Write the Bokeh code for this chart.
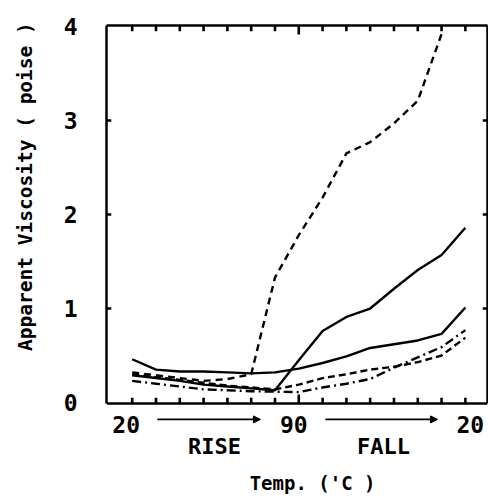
from bokeh.plotting import figure
from bokeh.models import (Range1d, LinearAxis, FixedTicker, Label, Arrow, NormalHead, Span)
from bokeh.core.properties import value
from bokeh.embed import file_html
from bokeh.resources import INLINE

# Measurement steps: 20 -> 90 'C (rise), then 90 -> 20 'C (fall)
steps = list(range(15))
label_steps = [0, 7, 14]
label_texts = ["20", "90", "20"]
y_ticks = [0, 1, 2, 3, 4]

# Apparent viscosity (poise) at each step
visc_a = [0.32, 0.29, 0.26, 0.23, 0.25, 0.30, 1.33, 1.78, 2.18, 2.65, 2.77, 2.97, 3.21, 3.92]
visc_b = [0.46, 0.35, 0.33, 0.33, 0.32, 0.31, 0.32, 0.36, 0.42, 0.49, 0.58, 0.62, 0.66, 0.73, 1.01]
visc_c = [0.29, 0.26, 0.23, 0.19, 0.17, 0.15, 0.13, 0.45, 0.76, 0.91, 1.00, 1.21, 1.41, 1.57, 1.86]
visc_d = [0.23, 0.20, 0.17, 0.14, 0.13, 0.12, 0.115, 0.11, 0.16, 0.20, 0.25, 0.37, 0.48, 0.59, 0.77]
visc_e = [0.30, 0.27, 0.24, 0.21, 0.18, 0.16, 0.14, 0.19, 0.26, 0.30, 0.35, 0.38, 0.43, 0.50, 0.69]

FONT = "DejaVu Sans Mono"
BLACK = "black"

# the frame runs to the bottom of the page; the boxed plot area ends at BOX_Y0
X0, X1 = -1.08, 14.93
Y0, Y1 = -1.032, 4.011
BOX_Y0 = -0.01

p = figure(width=488, height=499, output_backend="svg", toolbar_location=None,
           x_range=Range1d(X0, X1), y_range=Range1d(Y0, Y1),
           x_axis_location=None,
           min_border_left=106, min_border_right=1, min_border_top=25,
           min_border_bottom=0)
p.xgrid.visible = False
p.ygrid.visible = False
p.outline_line_color = None
p.background_fill_color = "white"
p.border_fill_color = "white"

LW = 2.4
p.line(steps[:len(visc_a)], visc_a, line_color=BLACK, line_width=LW, line_dash="7 5")
p.line(steps, visc_b, line_color=BLACK, line_width=LW)
p.line(steps, visc_c, line_color=BLACK, line_width=LW)
p.line(steps, visc_d, line_color=BLACK, line_width=LW, line_dash="9 4 2 4")
p.line(steps, visc_e, line_color=BLACK, line_width=LW, line_dash="7 4")


def frame_axis(ax, bounds=None):
    ax.axis_line_color = BLACK
    ax.axis_line_width = 2.5
    if bounds is not None:
        ax.bounds = bounds
    ax.major_tick_out = 0
    ax.minor_tick_out = 0
    ax.major_tick_in = 0
    ax.minor_tick_in = 0
    ax.major_label_text_font = FONT
    ax.major_label_text_font_style = "bold"
    ax.major_label_text_color = BLACK


# left edge with the viscosity scale
yl = p.yaxis[0]
yl.ticker = FixedTicker(ticks=y_ticks, minor_ticks=[])
frame_axis(yl, (BOX_Y0, Y1))
yl.major_label_standoff = 29
yl.major_label_text_font_size = "23px"

# right and top edges of the box (no labels)
yr = LinearAxis(ticker=FixedTicker(ticks=y_ticks, minor_ticks=[]))
frame_axis(yr, (BOX_Y0, Y1))
yr.major_label_overrides = {t: "" for t in y_ticks}
yr.major_label_text_font_size = "1px"
yr.major_label_standoff = 0
p.add_layout(yr, "right")

xt = LinearAxis(ticker=FixedTicker(ticks=label_steps, minor_ticks=[]))
frame_axis(xt)
xt.major_label_overrides = {t: "" for t in label_steps}
xt.major_label_text_font_size = "1px"
xt.major_label_standoff = 0
p.add_layout(xt, "above")

# bottom edge of the box
p.add_layout(Span(location=BOX_Y0, dimension="width", line_color=BLACK, line_width=2.5))

# inward tick marks: one per step along bottom and top, one per unit at the sides
n = len(steps)
bottom_len = [0.095 if s == 7 else 0.06 for s in steps]
p.segment(x0=steps, y0=[BOX_Y0] * n, x1=steps,
          y1=[BOX_Y0 + l for l in bottom_len], line_color=BLACK, line_width=2.6)
p.segment(x0=steps, y0=[Y1] * n, x1=steps,
          y1=[Y1 - l for l in bottom_len], line_color=BLACK, line_width=2.6)
side = y_ticks[1:-1]
p.segment(x0=[X0] * len(side), y0=side, x1=[X0 + 0.2] * len(side), y1=side,
          line_color=BLACK, line_width=2.6)
p.segment(x0=[X1] * len(side), y0=side, x1=[X1 - 0.2] * len(side), y1=side,
          line_color=BLACK, line_width=2.6)

# temperature labels under the steps
p.text(x=label_steps, y=-0.234, text=label_texts, x_offset=[-6, -5, 5],
       text_font=value(FONT), text_font_style="bold", text_font_size="23px",
       text_color=BLACK, text_align="center", text_baseline="middle")

# direction arrows
arrow_y = -0.18
for x0, x1 in [(1.06, 5.39), (8.12, 12.83)]:
    p.add_layout(Arrow(x_start=x0, y_start=arrow_y, x_end=x1, y_end=arrow_y,
                       line_color=BLACK, line_width=1.8,
                       end=NormalHead(size=7, fill_color=BLACK, line_color=BLACK,
                                      line_width=1)))

p.add_layout(Label(x=3.46, y=-0.47, text="RISE", text_align="center",
                   text_baseline="middle", text_font=FONT, text_font_style="bold",
                   text_font_size="22px", text_color=BLACK))
p.add_layout(Label(x=10.56, y=-0.47, text="FALL", text_align="center",
                   text_baseline="middle", text_font=FONT, text_font_style="bold",
                   text_font_size="22px", text_color=BLACK))
p.add_layout(Label(x=7.58, y=-0.86, text="Temp. ('C )", text_align="center",
                   text_baseline="middle", text_font=FONT, text_font_style="bold",
                   text_font_size="19px", text_color=BLACK))

# vertical title in the left margin
p.add_layout(Label(x=-4.48, y=2.36, text="Apparent Viscosity  ( poise )", angle=1.5708,
                   text_align="center", text_baseline="middle", text_font=FONT,
                   text_font_style="bold", text_font_size="19.5px", text_color=BLACK), "left")

open("out.html", "w").write(file_html(p, INLINE))
